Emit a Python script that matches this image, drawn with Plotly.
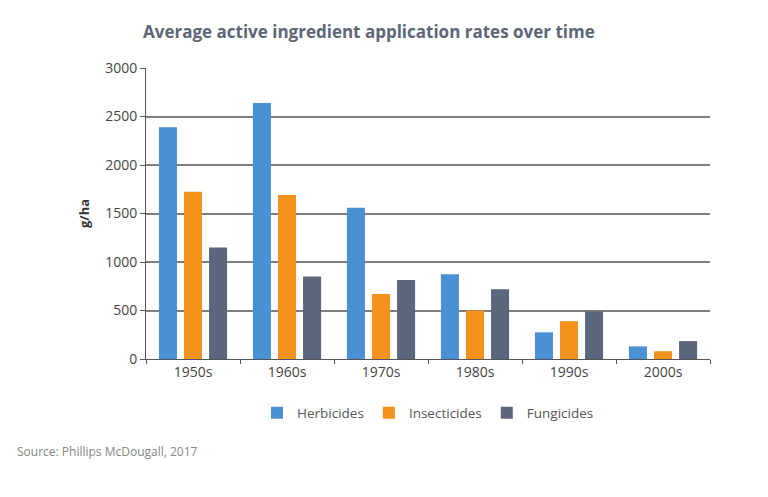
import plotly.graph_objects as go

categories = ["1950s", "1960s", "1970s", "1980s", "1990s", "2000s"]
herbicides = [2390, 2640, 1560, 875, 275, 130]
insecticides = [1725, 1690, 670, 500, 390, 80]
fungicides = [1150, 850, 815, 720, 490, 185]

series = [
    ("Herbicides", herbicides, "#4a90d2"),
    ("Insecticides", insecticides, "#f5921e"),
    ("Fungicides", fungicides, "#5a677c"),
]

fig = go.Figure()
for name, vals, color in series:
    fig.add_trace(go.Bar(x=categories, y=vals, name=name, marker_color=color,
                         marker_line_width=0))

W, H = 768, 497
L, R, T, B = 146, 58, 68, 138

fig.update_layout(
    width=W, height=H,
    margin=dict(l=L, r=R, t=T, b=B),
    paper_bgcolor="white", plot_bgcolor="white",
    barmode="group", bargap=0.2, bargroupgap=0.28,
    font=dict(family="Open Sans", color="#444444", size=13),
    title=dict(text="<b>Average active ingredient application rates over time</b>",
               x=143 / W, xanchor="left", xref="container",
               y=1 - 32 / H, yanchor="middle", yref="container",
               font=dict(family="Open Sans", size=17, color="#5d6676")),
    legend=dict(orientation="h", x=0.5, xanchor="center", y=(359 - 413) / 291,
                yanchor="middle", font=dict(size=13.5, color="#555555"),
                itemwidth=30, traceorder="normal"),
    showlegend=True,
)
fig.update_xaxes(showgrid=False, showline=True, linecolor="#555555", linewidth=1,
                 ticks="outside", tickson="boundaries", ticklen=4, tickcolor="#555555",
                 tickfont=dict(size=14, color="#444444"))
fig.update_yaxes(range=[0, 3000], tickvals=[0, 500, 1000, 1500, 2000, 2500, 3000],
                 showgrid=True, gridcolor="#7f7f7f", gridwidth=1.5,
                 showline=True, linecolor="#555555", linewidth=1,
                 ticks="outside", ticklen=5, tickcolor="#555555", zeroline=False,
                 tickfont=dict(size=14, color="#444444"),
                 title=dict(text="<b>g/ha</b>", standoff=12,
                            font=dict(size=13, color="#333333")))
fig.add_annotation(text="Source: Phillips McDougall, 2017", xref="paper", yref="paper",
                   x=(15 - L) / (W - L - R), y=(359 - 451) / 291, xanchor="left",
                   yanchor="middle", showarrow=False,
                   font=dict(size=12, color="#888888"))

fig.write_html("out.html")
